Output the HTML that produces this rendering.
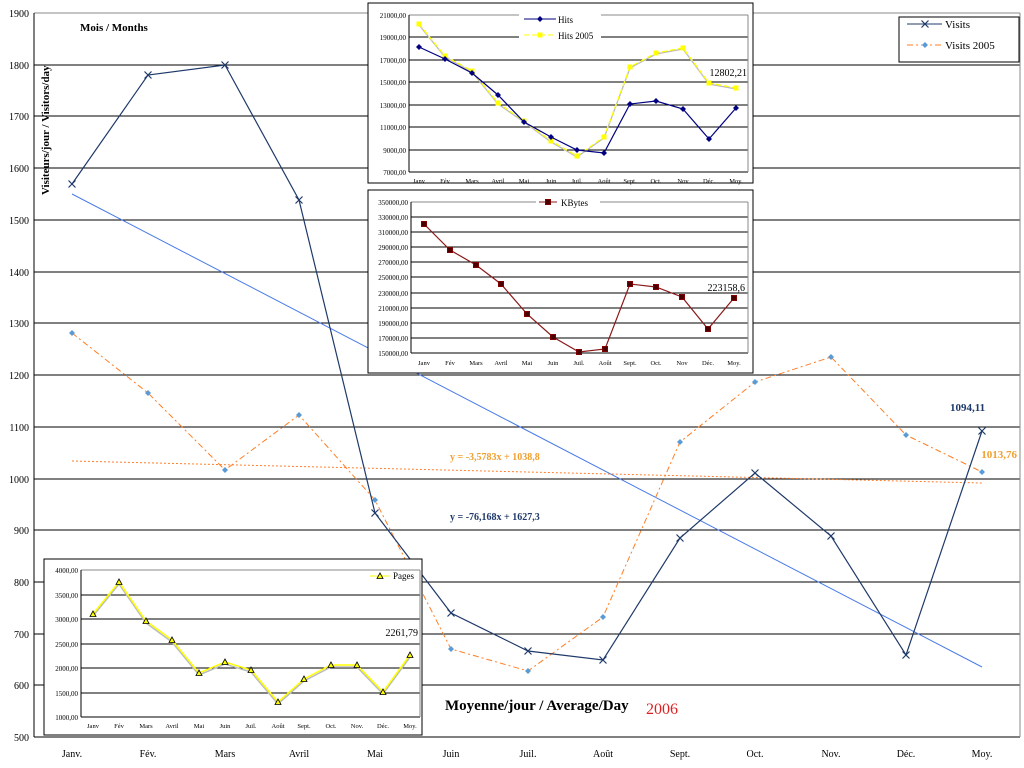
<!DOCTYPE html>
<html><head><meta charset="utf-8"><style>
html,body{margin:0;padding:0;background:#fff;}
svg{display:block;font-family:"Liberation Serif",serif;}
</style></head><body>
<svg width="1024" height="768" viewBox="0 0 1024 768" xmlns="http://www.w3.org/2000/svg">
<defs>
<marker id="mx" markerWidth="10" markerHeight="10" refX="5" refY="5" markerUnits="userSpaceOnUse"><path d="M1.5 1.5L8.5 8.5M8.5 1.5L1.5 8.5" stroke="#1f3a6a" stroke-width="1.2"/></marker>
<marker id="md" markerWidth="8" markerHeight="8" refX="4" refY="4" markerUnits="userSpaceOnUse"><path d="M4 1L7 4L4 7L1 4Z" fill="#5b9bd5"/></marker>
<marker id="mh" markerWidth="8" markerHeight="8" refX="4" refY="4" markerUnits="userSpaceOnUse"><path d="M4 1L7 4L4 7L1 4Z" fill="#000080"/></marker>
<marker id="ms" markerWidth="7" markerHeight="7" refX="3.5" refY="3.5" markerUnits="userSpaceOnUse"><rect x="1" y="1" width="5" height="5" fill="#ffff00"/></marker>
<marker id="mk" markerWidth="8" markerHeight="8" refX="4" refY="4" markerUnits="userSpaceOnUse"><rect x="1.5" y="1.5" width="5" height="5" fill="#4a0000" stroke="#800000"/></marker>
<marker id="mt" markerWidth="9" markerHeight="9" refX="4.5" refY="4.5" markerUnits="userSpaceOnUse"><path d="M4.5 1.5L7.5 7L1.5 7Z" fill="#ffff00" stroke="#000" stroke-width="0.8"/></marker>
</defs>
<g stroke="#000" stroke-width="1">
<line x1="34" y1="13" x2="1020" y2="13" stroke="#888"/>
<line x1="34" y1="65" x2="1020" y2="65"/><line x1="34" y1="116" x2="1020" y2="116"/><line x1="34" y1="168" x2="1020" y2="168"/><line x1="34" y1="220" x2="1020" y2="220"/><line x1="34" y1="272" x2="1020" y2="272"/><line x1="34" y1="323" x2="1020" y2="323"/><line x1="34" y1="375" x2="1020" y2="375"/><line x1="34" y1="427" x2="1020" y2="427"/><line x1="34" y1="479" x2="1020" y2="479"/><line x1="34" y1="530" x2="1020" y2="530"/><line x1="34" y1="582" x2="1020" y2="582"/><line x1="34" y1="634" x2="1020" y2="634"/><line x1="34" y1="685" x2="1020" y2="685"/>
<line x1="34" y1="737" x2="1020" y2="737"/>
<line x1="34" y1="13" x2="34" y2="737"/>
<line x1="1020" y1="13" x2="1020" y2="737" stroke="#888"/>
</g>
<g font-size="10" text-anchor="end">
<text x="29" y="17">1900</text><text x="29" y="69">1800</text><text x="29" y="120">1700</text><text x="29" y="172">1600</text><text x="29" y="224">1500</text><text x="29" y="276">1400</text><text x="29" y="327">1300</text><text x="29" y="379">1200</text><text x="29" y="431">1100</text><text x="29" y="483">1000</text><text x="29" y="534">900</text><text x="29" y="586">800</text><text x="29" y="638">700</text><text x="29" y="689">600</text><text x="29" y="741">500</text>
</g>
<g font-size="10" text-anchor="middle">
<text x="72" y="757">Janv.</text><text x="148" y="757">Fév.</text><text x="225" y="757">Mars</text><text x="299" y="757">Avril</text><text x="375" y="757">Mai</text><text x="451" y="757">Juin</text><text x="528" y="757">Juil.</text><text x="603" y="757">Août</text><text x="680" y="757">Sept.</text><text x="755" y="757">Oct.</text><text x="831" y="757">Nov.</text><text x="906" y="757">Déc.</text><text x="982" y="757">Moy.</text>
</g>
<line x1="72" y1="194" x2="982" y2="667" stroke="#4a7be8" stroke-width="1"/>
<line x1="72" y1="461" x2="982" y2="483" stroke="#ff7f27" stroke-width="1" stroke-dasharray="2,2"/>
<polyline fill="none" stroke="#ff7f27" stroke-width="1" stroke-dasharray="6,3,2,3" marker-start="url(#md)" marker-mid="url(#md)" marker-end="url(#md)" points="72,333 148,393 225,470 299,415 375,500 451,649 528,671 603,617 680,442 755,382 831,357 906,435 982,472"/>
<polyline fill="none" stroke="#1f3a6a" stroke-width="1.2" marker-start="url(#mx)" marker-mid="url(#mx)" marker-end="url(#mx)" points="72,184 148,75 225,65 299,200 375,513 451,613 528,651 603,660 680,538 755,473 831,536 906,655 982,431"/>
<g font-weight="bold" font-size="11">
<text x="80" y="31">Mois / Months</text>
<text transform="translate(49,195) rotate(-90)">Visiteurs/jour / Visitors/day</text>
<text x="950" y="411" fill="#1f3a6a">1094,11</text>
<text x="1017" y="458" fill="#f0a030" text-anchor="end">1013,76</text>
<text x="450" y="460" fill="#f0a030" font-size="10">y = -3,5783x + 1038,8</text>
<text x="450" y="520" fill="#1f3a6a" font-size="10">y = -76,168x + 1627,3</text>
<text x="445" y="710" font-size="15" fill="#000">Moyenne/jour / Average/Day</text>
</g>
<text x="646" y="714" font-size="16" fill="#e02020">2006</text>
<rect x="899" y="17" width="120" height="45" fill="#fff" stroke="#000"/>
<polyline points="907,24 925,24 942,24" fill="none" stroke="#1f3a6a" marker-mid="url(#mx)"/>
<text x="945" y="28" font-size="11">Visits</text>
<polyline points="907,45 925,45 942,45" fill="none" stroke="#ff7f27" stroke-dasharray="6,3,2,3" marker-mid="url(#md)"/>
<text x="945" y="49" font-size="11">Visits 2005</text>

<rect x="368" y="3" width="385" height="180" fill="#fff" stroke="#000"/>
<g stroke="#000"><line x1="409" y1="15" x2="748" y2="15" stroke="#888"/><line x1="409" y1="37" x2="748" y2="37"/><line x1="409" y1="60" x2="748" y2="60"/><line x1="409" y1="82" x2="748" y2="82"/><line x1="409" y1="105" x2="748" y2="105"/><line x1="409" y1="127" x2="748" y2="127"/><line x1="409" y1="150" x2="748" y2="150"/><line x1="409" y1="172" x2="748" y2="172"/><line x1="409" y1="15" x2="409" y2="172"/><line x1="748" y1="15" x2="748" y2="172" stroke="#888"/></g>
<g font-size="7" text-anchor="end"><text x="406" y="18">21000,00</text><text x="406" y="40">19000,00</text><text x="406" y="63">17000,00</text><text x="406" y="85">15000,00</text><text x="406" y="108">13000,00</text><text x="406" y="130">11000,00</text><text x="406" y="153">9000,00</text><text x="406" y="175">7000,00</text></g>
<g font-size="6.5" text-anchor="middle"><text x="419" y="183">Janv</text><text x="445" y="183">Fév</text><text x="472" y="183">Mars</text><text x="498" y="183">Avril</text><text x="524" y="183">Mai</text><text x="551" y="183">Juin</text><text x="577" y="183">Juil.</text><text x="604" y="183">Août</text><text x="630" y="183">Sept.</text><text x="656" y="183">Oct.</text><text x="683" y="183">Nov</text><text x="709" y="183">Déc.</text><text x="736" y="183">Moy.</text></g>
<polyline fill="none" stroke="#bbb" stroke-width="1.3" points="419,25 445,57 472,72 498,104 524,122 551,142 577,157 604,138 630,68 656,54 683,49 709,84 736,89"/>
<polyline fill="none" stroke="#ffff00" stroke-width="1.3" stroke-dasharray="5,3" marker-start="url(#ms)" marker-mid="url(#ms)" marker-end="url(#ms)" points="419,24 445,56 472,71 498,103 524,121 551,141 577,156 604,137 630,67 656,53 683,48 709,83 736,88"/>
<polyline fill="none" stroke="#000080" stroke-width="1.2" marker-start="url(#mh)" marker-mid="url(#mh)" marker-end="url(#mh)" points="419,47 445,59 472,73 498,95 524,122 551,137 577,150 604,153 630,104 656,101 683,109 709,139 736,108"/>
<rect x="519" y="13" width="82" height="27" fill="#fff"/>
<polyline points="524,19 540,19 556,19" fill="none" stroke="#000080" marker-mid="url(#mh)"/>
<text x="558" y="23" font-size="9">Hits</text>
<polyline points="524,35 540,35 556,35" fill="none" stroke="#ffff00" stroke-dasharray="5,3" marker-mid="url(#ms)"/>
<text x="558" y="39" font-size="9">Hits 2005</text>
<text x="747" y="76" font-size="10" text-anchor="end">12802,21</text>

<rect x="368" y="190" width="385" height="183" fill="#fff" stroke="#000"/>
<g stroke="#000"><line x1="411" y1="202" x2="748" y2="202" stroke="#888"/><line x1="411" y1="217" x2="748" y2="217"/><line x1="411" y1="232" x2="748" y2="232"/><line x1="411" y1="247" x2="748" y2="247"/><line x1="411" y1="262" x2="748" y2="262"/><line x1="411" y1="277" x2="748" y2="277"/><line x1="411" y1="293" x2="748" y2="293"/><line x1="411" y1="308" x2="748" y2="308"/><line x1="411" y1="323" x2="748" y2="323"/><line x1="411" y1="338" x2="748" y2="338"/><line x1="411" y1="353" x2="748" y2="353"/><line x1="411" y1="202" x2="411" y2="353"/><line x1="748" y1="202" x2="748" y2="353" stroke="#888"/></g>
<g font-size="7" text-anchor="end"><text x="408" y="205">350000,00</text><text x="408" y="220">330000,00</text><text x="408" y="235">310000,00</text><text x="408" y="250">290000,00</text><text x="408" y="265">270000,00</text><text x="408" y="280">250000,00</text><text x="408" y="296">230000,00</text><text x="408" y="311">210000,00</text><text x="408" y="326">190000,00</text><text x="408" y="341">170000,00</text><text x="408" y="356">150000,00</text></g>
<g font-size="6.5" text-anchor="middle"><text x="424" y="365">Janv</text><text x="450" y="365">Fév</text><text x="476" y="365">Mars</text><text x="501" y="365">Avril</text><text x="527" y="365">Mai</text><text x="553" y="365">Juin</text><text x="579" y="365">Juil.</text><text x="605" y="365">Août</text><text x="630" y="365">Sept.</text><text x="656" y="365">Oct.</text><text x="682" y="365">Nov</text><text x="708" y="365">Déc.</text><text x="734" y="365">Moy.</text></g>
<polyline fill="none" stroke="#8b1a1a" stroke-width="1.2" marker-start="url(#mk)" marker-mid="url(#mk)" marker-end="url(#mk)" points="424,224 450,250 476,265 501,284 527,314 553,337 579,352 605,349 630,284 656,287 682,297 708,329 734,298"/>
<rect x="536" y="196" width="64" height="12" fill="#fff"/>
<polyline points="539,202 548,202 557,202" fill="none" stroke="#8b1a1a" marker-mid="url(#mk)"/>
<text x="561" y="206" font-size="9">KBytes</text>
<text x="745" y="291" font-size="10" text-anchor="end">223158,6</text>

<rect x="44" y="559" width="378" height="176" fill="#fff" stroke="#000"/>
<g stroke="#000"><line x1="81" y1="570" x2="420" y2="570" stroke="#888"/><line x1="81" y1="595" x2="420" y2="595"/><line x1="81" y1="619" x2="420" y2="619"/><line x1="81" y1="644" x2="420" y2="644"/><line x1="81" y1="668" x2="420" y2="668"/><line x1="81" y1="693" x2="420" y2="693"/><line x1="81" y1="717" x2="420" y2="717"/><line x1="81" y1="570" x2="81" y2="717"/><line x1="420" y1="570" x2="420" y2="717" stroke="#888"/></g>
<g font-size="7" text-anchor="end"><text x="78" y="573">4000,00</text><text x="78" y="598">3500,00</text><text x="78" y="622">3000,00</text><text x="78" y="647">2500,00</text><text x="78" y="671">2000,00</text><text x="78" y="696">1500,00</text><text x="78" y="720">1000,00</text></g>
<g font-size="6.5" text-anchor="middle"><text x="93" y="728">Janv</text><text x="119" y="728">Fév</text><text x="146" y="728">Mars</text><text x="172" y="728">Avril</text><text x="199" y="728">Mai</text><text x="225" y="728">Juin</text><text x="251" y="728">Juil.</text><text x="278" y="728">Août</text><text x="304" y="728">Sept.</text><text x="331" y="728">Oct.</text><text x="357" y="728">Nov.</text><text x="383" y="728">Déc.</text><text x="410" y="728">Moy.</text></g>
<polyline fill="none" stroke="#bbb" stroke-width="1.5" points="93,616 119,584 146,623 172,642 199,675 225,664 251,672 278,704 304,681 331,667 357,667 383,694 410,657"/>
<polyline fill="none" stroke="#ffff00" stroke-width="1.5" marker-start="url(#mt)" marker-mid="url(#mt)" marker-end="url(#mt)" points="93,614 119,582 146,621 172,640 199,673 225,662 251,670 278,702 304,679 331,665 357,665 383,692 410,655"/>
<polyline points="370,576 380,576 390,576" fill="none" stroke="#ffff00" marker-mid="url(#mt)"/>
<text x="393" y="579" font-size="9">Pages</text>
<text x="418" y="636" font-size="10" text-anchor="end">2261,79</text>
</svg>
</body></html>
